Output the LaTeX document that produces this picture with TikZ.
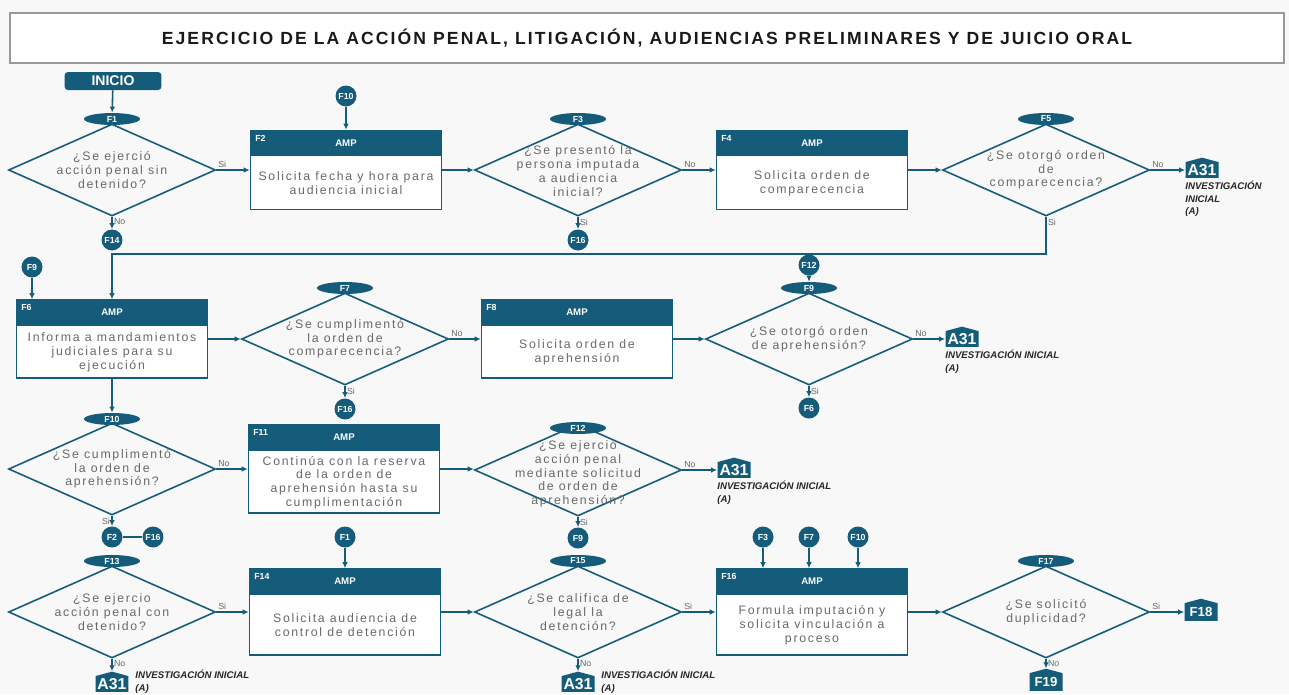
\documentclass[tikz,border=0pt]{standalone}
\usepackage{fontspec}
\setmainfont{Liberation Sans}
\newfontfamily\trackfont[LetterSpace=14]{Liberation Sans}
\newfontfamily\titlefont[LetterSpace=12]{Liberation Sans}
\usetikzlibrary{positioning,arrows.meta,calc,shapes.geometric,shapes.symbols}

\definecolor{flowteal}{RGB}{21,92,122}
\definecolor{flowgray}{RGB}{105,105,105}
\definecolor{pagebg}{RGB}{248,248,248}

\tikzset{
  conn/.style={flowteal,line width=0.9pt,-{Latex[length=1.2mm,width=1.1mm]}},
  link/.style={flowteal,line width=0.9pt},
  boxframe/.style={draw=flowteal,line width=0.9pt,fill=white,minimum width=3.82cm,inner sep=0pt},
  boxhead/.style={fill=flowteal,text=white,font=\bfseries\fontsize{5.5}{6}\selectfont,
    minimum width=3.82cm,minimum height=0.52cm,inner sep=0pt},
  boxid/.style={text=white,font=\bfseries\fontsize{5}{6}\selectfont,inner sep=3pt},
  boxtext/.style={text=flowgray,font=\trackfont\fontsize{7}{7.8}\selectfont,align=center,inner sep=0pt},
  decision/.style={diamond,draw=flowteal,line width=0.9pt,minimum width=4.14cm,minimum height=1.84cm,inner sep=0pt},
  tag/.style={ellipse,fill=flowteal,text=white,font=\bfseries\fontsize{5}{6}\selectfont,
    minimum width=1.12cm,minimum height=0.24cm,inner sep=0pt},
  jump/.style={circle,fill=flowteal,text=white,font=\bfseries\fontsize{5}{6}\selectfont,minimum size=0.42cm,inner sep=0pt},
  exitbox/.style={signal,signal to=north,signal from=nowhere,signal pointer angle=150,fill=flowteal,text=white,
    font=\bfseries\fontsize{9}{10}\selectfont,minimum width=0.66cm,minimum height=0.4cm,inner sep=0.5pt},
  exitnote/.style={font=\bfseries\itshape\fontsize{5.5}{7}\selectfont,align=left,inner sep=0pt,text=black!85},
  ans/.style={text=flowgray,font=\fontsize{5}{6}\selectfont,inner sep=1pt},
  startbox/.style={rectangle,rounded corners=2pt,fill=flowteal,text=white,font=\bfseries\fontsize{8}{9}\selectfont,
    minimum width=1.94cm,minimum height=0.36cm,inner sep=0pt},
}

\begin{document}
\begin{tikzpicture}[x=0.02cm,y=-0.02cm]
\fill[pagebg] (0,0) rectangle (1289,694);
\useasboundingbox (0,0) rectangle (1289,694);

\node[draw=gray!80,line width=1pt,fill=white,minimum width=25.48cm,minimum height=1cm,text=black!90,
  font=\titlefont\bfseries\fontsize{10}{11}\selectfont] (title) at (647,38)
  {EJERCICIO DE LA ACCIÓN PENAL, LITIGACIÓN, AUDIENCIAS PRELIMINARES Y DE JUICIO ORAL};

\node[startbox] (inicio) at (113,81) {INICIO};

% fila 1
\node[tag] (t1) at (112,119) {F1};
\node[decision] (d1) at (112,170) {};
\node[boxtext] (q1) at (d1) {¿Se ejerció\\acción penal sin\\detenido?};
\draw[conn] (inicio) -- (t1);
\node[jump] (c14a) at (112,240) {F14};
\draw[conn] (d1.south) -- (c14a);
\node[ans,anchor=north west] (n1) at (d1.south) {No};

\node[jump] (c10a) at (346,96) {F10};
\node[boxframe,minimum height=1.58cm] (b2) at (346,170) {};
\node[boxhead,anchor=north] (b2h) at (b2.north) {AMP};
\node[boxid,anchor=north west] (b2i) at (b2.north west) {F2};
\node[boxtext] (b2t) at ($(b2h.south)!0.5!(b2.south)$) {Solicita fecha y hora para\\audiencia inicial};
\draw[conn] (c10a) -- (b2);
\draw[conn] (d1.east) -- (b2.west);
\node[ans,anchor=south west] (s1) at (d1.east) {Si};

\node[tag] (t3) at (578,119) {F3};
\node[decision] (d3) at (578,170) {};
\node[boxtext] (q3) at ($(d3)+(0,1)$) {¿Se presentó la\\persona imputada\\a audiencia\\inicial?};
\draw[conn] (b2.east) -- (d3.west);
\node[jump] (c16a) at (578,240) {F16};
\draw[conn] (d3.south) -- (c16a);
\node[ans,anchor=north west] (s3) at (d3.south) {Si};

\node[boxframe,minimum height=1.58cm] (b4) at (812,170) {};
\node[boxhead,anchor=north] (b4h) at (b4.north) {AMP};
\node[boxid,anchor=north west] (b4i) at (b4.north west) {F4};
\node[boxtext] (b4t) at ($(b4h.south)!0.5!(b4.south)$) {Solicita orden de\\comparecencia};
\draw[conn] (d3.east) -- (b4.west);
\node[ans,anchor=south west] (n3) at (d3.east) {No};

\node[tag] (t5) at (1046,119) {F5};
\node[decision] (d5) at (1046,170) {};
\node[boxtext] (q5) at (d5) {¿Se otorgó orden\\de\\comparecencia?};
\draw[conn] (b4.east) -- (d5.west);
\node[exitbox] (x1) at (1202,170) {A31};
\node[exitnote,anchor=north west] (x1n) at (1185,181) {INVESTIGACIÓN\\INICIAL\\(A)};
\draw[conn] (d5.east) -- (x1.west);
\node[ans,anchor=south west] (n5) at (d5.east) {No};
\node[ans,anchor=north west] (s5) at (d5.south) {Si};

% fila 2
\node[boxframe,minimum height=1.56cm] (b6) at (112,339) {};
\node[boxhead,anchor=north] (b6h) at (b6.north) {AMP};
\node[boxid,anchor=north west] (b6i) at (b6.north west) {F6};
\node[boxtext] (b6t) at ($(b6h.south)!0.5!(b6.south)$) {Informa a mandamientos\\judiciales para su\\ejecución};
\draw[conn] (d5.south) -- ++(0,37) -| (b6.north);
\node[jump] (c9a) at (32,267) {F9};
\draw[conn] (c9a) -- (c9a |- b6.north);

\node[tag] (t7) at (345,288) {F7};
\node[decision] (d7) at (345,339) {};
\node[boxtext] (q7) at (d7) {¿Se cumplimentó\\la orden de\\comparecencia?};
\draw[conn] (b6.east) -- (d7.west);
\node[jump] (c16b) at (345,409) {F16};
\draw[conn] (d7.south) -- (c16b);
\node[ans,anchor=north west] (s7) at (d7.south) {Si};

\node[boxframe,minimum height=1.56cm] (b8) at (577,339) {};
\node[boxhead,anchor=north] (b8h) at (b8.north) {AMP};
\node[boxid,anchor=north west] (b8i) at (b8.north west) {F8};
\node[boxtext] (b8t) at ($(b8h.south)!0.5!(b8.south)$) {Solicita orden de\\aprehensión};
\draw[conn] (d7.east) -- (b8.west);
\node[ans,anchor=south west] (n7) at (d7.east) {No};

\node[jump] (c12a) at (809,265) {F12};
\node[tag] (t9) at (809,288) {F9};
\node[decision] (d9) at (809,339) {};
\node[boxtext] (q9) at (d9) {¿Se otorgó orden\\de aprehensión?};
\draw[conn] (c12a) -- (t9);
\draw[conn] (b8.east) -- (d9.west);
\node[exitbox] (x2) at (962,339) {A31};
\node[exitnote,anchor=north west] (x2n) at (945,350) {INVESTIGACIÓN INICIAL\\(A)};
\draw[conn] (d9.east) -- (x2.west);
\node[ans,anchor=south west] (n9) at (d9.east) {No};
\node[jump] (c6a) at (809,408) {F6};
\draw[conn] (d9.south) -- (c6a);
\node[ans,anchor=north west] (s9) at (d9.south) {Si};

% fila 3
\node[tag] (t10) at (112,419) {F10};
\node[decision] (d10) at (112,469) {};
\node[boxtext] (q10) at (d10) {¿Se cumplimentó\\la orden de\\aprehensión?};
\draw[conn] (b6.south) -- (t10);
\node[jump] (c2a) at (112,537) {F2};
\node[jump] (c16c) at (153,537) {F16};
\draw[conn] (d10.south) -- (c2a);
\draw[link] (c2a) -- (c16c);
\node[ans,anchor=north east] (s10) at (d10.south) {Si};

\node[boxframe,minimum height=1.76cm] (b11) at (344,469) {};
\node[boxhead,anchor=north] (b11h) at (b11.north) {AMP};
\node[boxid,anchor=north west] (b11i) at (b11.north west) {F11};
\node[boxtext] (b11t) at ($(b11h.south)!0.5!(b11.south)$) {Continúa con la reserva\\de la orden de\\aprehensión hasta su\\cumplimentación};
\draw[conn] (d10.east) -- (b11.west);
\node[ans,anchor=south west] (n10) at (d10.east) {No};

\node[decision] (d12) at (578,470) {};
\node[tag] (t12) at (578,428) {F12};
\node[boxtext] (q12) at ($(d12)+(0,4)$) {¿Se ejerció\\acción penal\\mediante solicitud\\de orden de\\aprehensión?};
\draw[conn] (b11.east) -- (b11.east -| d12.west);
\node[exitbox] (x3) at (734,470) {A31};
\node[exitnote,anchor=north west] (x3n) at (717,481) {INVESTIGACIÓN INICIAL\\(A)};
\draw[conn] (d12.east) -- (x3.west);
\node[ans,anchor=south west] (n12) at (d12.east) {No};
\node[jump] (c9b) at (578,538) {F9};
\draw[conn] (d12.south) -- (c9b);
\node[ans,anchor=north west] (s12) at (d12.south) {Si};

% fila 4
\node[tag] (t13) at (112,561) {F13};
\node[decision] (d13) at (112,612) {};
\node[boxtext] (q13) at (d13) {¿Se ejercio\\acción penal con\\detenido?};
\node[exitbox] (x4) at (112,684) {A31};
\node[exitnote,anchor=north west] (x4n) at (135,670) {INVESTIGACIÓN INICIAL\\(A)};
\draw[conn] (d13.south) -- (x4.north);
\node[ans,anchor=north west] (n13) at (d13.south) {No};

\node[jump] (c1a) at (345,537) {F1};
\node[boxframe,minimum height=1.72cm] (b14) at (345,612) {};
\node[boxhead,anchor=north] (b14h) at (b14.north) {AMP};
\node[boxid,anchor=north west] (b14i) at (b14.north west) {F14};
\node[boxtext] (b14t) at ($(b14h.south)!0.5!(b14.south)$) {Solicita audiencia de\\control de detención};
\draw[conn] (c1a) -- (b14);
\draw[conn] (d13.east) -- (b14.west);
\node[ans,anchor=south west] (s13) at (d13.east) {Si};

\node[tag] (t15) at (578,561) {F15};
\node[decision] (d15) at (578,612) {};
\node[boxtext] (q15) at (d15) {¿Se califica de\\legal la\\detención?};
\draw[conn] (b14.east) -- (d15.west);
\node[exitbox] (x5) at (578,684) {A31};
\node[exitnote,anchor=north west] (x5n) at (601,670) {INVESTIGACIÓN INICIAL\\(A)};
\draw[conn] (d15.south) -- (x5.north);
\node[ans,anchor=north west] (n15) at (d15.south) {No};

\node[jump] (c3a) at (763,537) {F3};
\node[jump] (c7a) at (809,537) {F7};
\node[jump] (c10b) at (858,537) {F10};
\node[boxframe,minimum height=1.72cm] (b16) at (812,612) {};
\node[boxhead,anchor=north] (b16h) at (b16.north) {AMP};
\node[boxid,anchor=north west] (b16i) at (b16.north west) {F16};
\node[boxtext] (b16t) at ($(b16h.south)!0.5!(b16.south)$) {Formula imputación y\\solicita vinculación a\\proceso};
\draw[conn] (c3a) -- (c3a |- b16.north);
\draw[conn] (c7a) -- (c7a |- b16.north);
\draw[conn] (c10b) -- (c10b |- b16.north);
\draw[conn] (d15.east) -- (b16.west);
\node[ans,anchor=south west] (s15) at (d15.east) {Si};

\node[tag] (t17) at (1046,561) {F17};
\node[decision] (d17) at (1046,612) {};
\node[boxtext] (q17) at (d17) {¿Se solicitó\\duplicidad?};
\draw[conn] (b16.east) -- (d17.west);
\node[exitbox,font=\bfseries\fontsize{7.5}{8}\selectfont,minimum height=0.42cm] (x6) at (1201,612) {F18};
\draw[conn] (d17.east) -- (x6.west);
\node[ans,anchor=south west] (s17) at (d17.east) {Si};
\node[exitbox,font=\bfseries\fontsize{7.5}{8}\selectfont,minimum height=0.42cm] (x7) at (1046,682) {F19};
\draw[conn] (d17.south) -- (x7.north);
\node[ans,anchor=north west] (n17) at (d17.south) {No};
\end{tikzpicture}
\end{document}
